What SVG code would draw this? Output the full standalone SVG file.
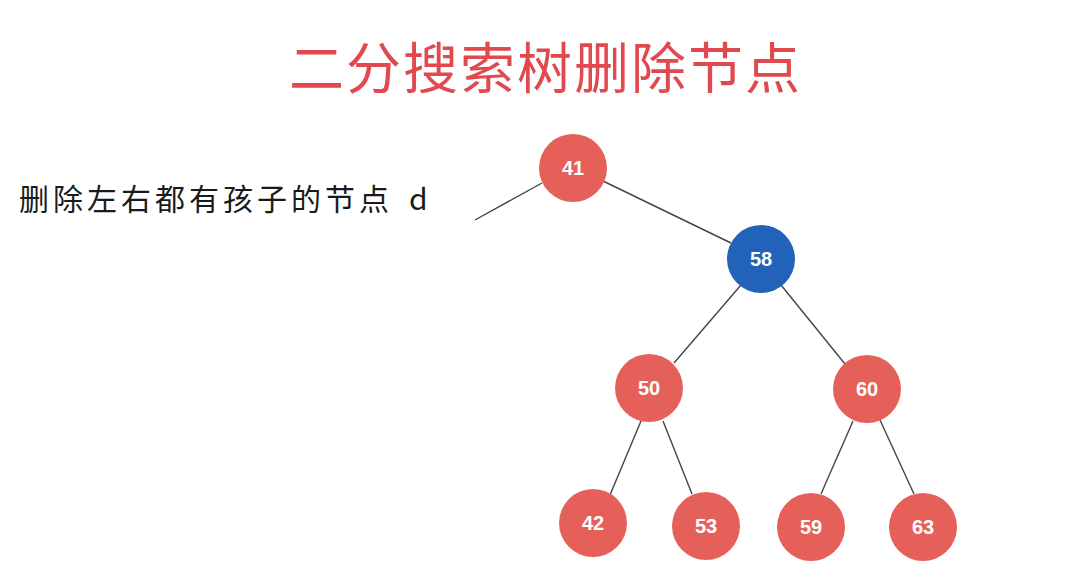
<svg xmlns="http://www.w3.org/2000/svg" width="1080" height="573" viewBox="0 0 1080 573">
<style>
.title{font-family:"Noto Sans CJK SC","Noto Sans",sans-serif;font-size:55px;fill:#E0494D;letter-spacing:2px}
.sub{font-family:"Noto Sans CJK SC","Noto Sans",sans-serif;font-size:30px;fill:#1a1a1a;letter-spacing:4px}
.edge{stroke:#444;stroke-width:1.4;fill:none}
.red{fill:#E6605A}
.blue{fill:#2262B9}
.lbl{font-family:"Liberation Sans",Arial,sans-serif;font-size:20px;font-weight:bold;fill:#fff;text-anchor:middle}
</style>
<rect width="1080" height="573" fill="#fff"/>
<text class="title" x="289" y="88">二分搜索树删除节点</text>
<text class="sub" x="19" y="210">删除左右都有孩子的节点<tspan x="409">d</tspan></text>
<g id="connectors">
<line class="edge" x1="475" y1="220" x2="542" y2="183"/>
<line class="edge" x1="603" y1="181" x2="731" y2="243"/>
<line class="edge" x1="741" y1="285" x2="674" y2="363"/>
<line class="edge" x1="781" y1="285" x2="845" y2="364"/>
<line class="edge" x1="641" y1="421" x2="610" y2="495"/>
<line class="edge" x1="663" y1="421" x2="692" y2="494"/>
<line class="edge" x1="853" y1="421" x2="821" y2="494"/>
<line class="edge" x1="880" y1="420" x2="914" y2="494"/>
</g>
<g id="n41"><circle class="red" cx="573" cy="168" r="34"/><text class="lbl" x="573" y="175">41</text></g>
<g id="n58"><circle class="blue" cx="761" cy="259" r="34"/><text class="lbl" x="761" y="266">58</text></g>
<g id="n50"><circle class="red" cx="649" cy="388" r="34"/><text class="lbl" x="649" y="395">50</text></g>
<g id="n60"><circle class="red" cx="867" cy="389" r="34"/><text class="lbl" x="867" y="396">60</text></g>
<g id="n42"><circle class="red" cx="593" cy="523" r="34"/><text class="lbl" x="593" y="530">42</text></g>
<g id="n53"><circle class="red" cx="706" cy="526" r="34"/><text class="lbl" x="706" y="533">53</text></g>
<g id="n59"><circle class="red" cx="811" cy="527" r="34"/><text class="lbl" x="811" y="534">59</text></g>
<g id="n63"><circle class="red" cx="923" cy="527" r="34"/><text class="lbl" x="923" y="534">63</text></g>
</svg>
